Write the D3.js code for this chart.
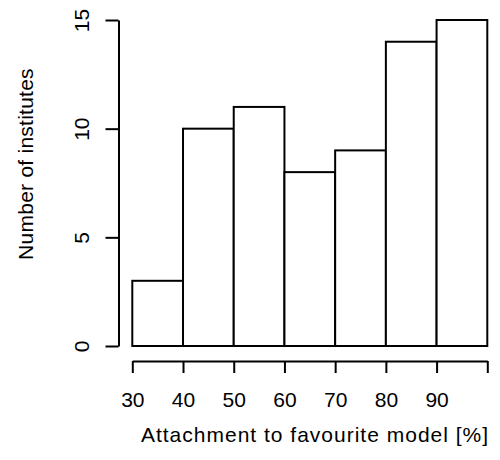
<!DOCTYPE html>
<html>
<head>
<meta charset="utf-8">
<script src="https://cdn.jsdelivr.net/npm/d3@7"></script>
<style>
  body { margin: 0; background: #fff; }
  svg text { font-family: "Liberation Sans", Arial, Helvetica, sans-serif; fill: #000; }
</style>
</head>
<body>
<div class="chart"></div>
<script>
// histogram bins (left edges) and counts
var binStarts = [30, 40, 50, 60, 70, 80, 90];
var binWidth = 10;
var counts = [3, 10, 11, 8, 9, 14, 15];
var xTicks = [30, 40, 50, 60, 70, 80, 90, 100];
var yTicks = [0, 5, 10, 15];
var xTitle = "Attachment to favourite model [%]";
var yTitle = "Number of institutes";

var svgWidth = 500;
var svgHeight = 460;

var svg = d3.select(".chart")
    .append("svg")
    .attr("width", svgWidth)
    .attr("height", svgHeight);

var xScale = d3.scaleLinear()
    .domain([30, 100])
    .range([132.3, 487.3]);

var yScale = d3.scaleLinear()
    .domain([0, 15])
    .range([346, 20]);

// bars
svg.selectAll("rect.bar")
    .data(binStarts)
    .enter()
    .append("rect")
    .attr("class", "bar")
    .attr("x", d => xScale(d))
    .attr("width", d => xScale(d + binWidth) - xScale(d))
    .attr("y", (d, i) => yScale(counts[i]))
    .attr("height", (d, i) => yScale(0) - yScale(counts[i]))
    .attr("fill", "#fff")
    .attr("stroke", "#000")
    .attr("stroke-width", 2);

// x axis
var xAxis = d3.axisBottom(xScale)
    .tickValues(xTicks)
    .tickSize(12)
    .tickSizeOuter(0)
    .tickFormat(d => d === 100 ? "" : d);

var xg = svg.append("g")
    .attr("transform", "translate(0, 361)")
    .call(xAxis);

xg.selectAll("text")
    .attr("y", 46)
    .attr("dy", 0)
    .style("font-size", "21px");

// y axis
var yAxis = d3.axisLeft(yScale)
    .tickValues(yTicks)
    .tickSize(13)
    .tickSizeOuter(0);

var yg = svg.append("g")
    .attr("transform", "translate(118.5, 0)")
    .call(yAxis);

yg.selectAll("text")
    .attr("x", 0)
    .attr("dy", 0)
    .attr("text-anchor", "middle")
    .attr("transform", "translate(-30, 0) rotate(-90)")
    .style("font-size", "21px");

svg.selectAll(".domain, .tick line")
    .attr("stroke", "#000")
    .attr("stroke-width", 2);

// titles
svg.append("text")
    .attr("x", 315)
    .attr("y", 442)
    .attr("text-anchor", "middle")
    .style("font-size", "21px")
    .style("letter-spacing", "1px")
    .text(xTitle);

svg.append("text")
    .attr("transform", "translate(33, 164) rotate(-90)")
    .attr("text-anchor", "middle")
    .style("font-size", "21px")
    .style("letter-spacing", "0.25px")
    .text(yTitle);
</script>
</body>
</html>
